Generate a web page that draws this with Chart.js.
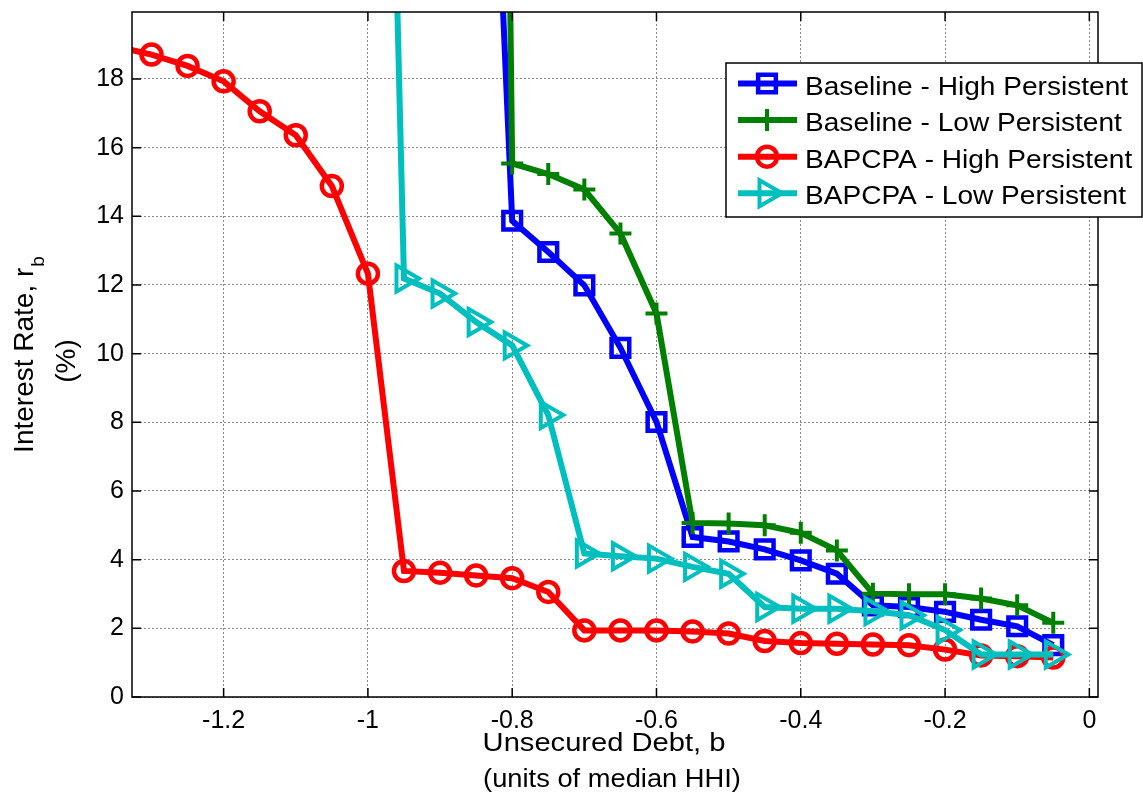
<!DOCTYPE html>
<html>
<head>
<meta charset="utf-8">
<script src="https://cdn.jsdelivr.net/npm/chart.js@4.4.1/dist/chart.umd.min.js"></script>
<style>
  html, body { margin: 0; padding: 0; background: #fff; }
  #wrap { width: 1143px; height: 806px; }
</style>
</head>
<body>
<div id="wrap"><canvas id="rateChart" width="1143" height="806"></canvas></div>
<script>
// debt grid (units of median HHI)
const debtGrid = [-1.35, -1.3, -1.25, -1.2, -1.15, -1.1, -1.05, -1.0, -0.95, -0.9,
  -0.85, -0.8, -0.75, -0.7, -0.65, -0.6, -0.55, -0.5, -0.45, -0.4,
  -0.35, -0.3, -0.25, -0.2, -0.15, -0.1, -0.05];

// interest rates (%)
const baselineHigh = [38, 13.87, 12.96, 11.99, 10.17, 8.01, 4.66, 4.53, 4.30, 3.98,
  3.59, 2.67, 2.62, 2.48, 2.25, 2.06, 1.51];
const baselineLow = [100, 15.54, 15.23, 14.78, 13.50, 11.17, 5.07, 5.05, 5.00, 4.78,
  4.27, 3.01, 2.99, 2.99, 2.87, 2.67, 2.16];
const bapcpaHigh = [18.95, 18.71, 18.38, 17.93, 17.06, 16.36, 14.88, 12.33, 3.67, 3.62,
  3.54, 3.46, 3.06, 1.94, 1.94, 1.94, 1.91, 1.85, 1.63, 1.57,
  1.55, 1.53, 1.51, 1.38, 1.21, 1.19, 1.15];
const bapcpaLow = [55, 12.19, 11.75, 10.92, 10.24, 8.21, 4.18, 4.10, 4.03, 3.79,
  3.59, 2.62, 2.57, 2.57, 2.50, 2.38, 1.95, 1.24, 1.24, 1.24];

const xTicks = [-1.2, -1, -0.8, -0.6, -0.4, -0.2, 0];
const yTicks = [0, 2, 4, 6, 8, 10, 12, 14, 16, 18];

const legendLabels = [
  "Baseline - High Persistent",
  "Baseline - Low Persistent",
  "BAPCPA - High Persistent",
  "BAPCPA - Low Persistent",
];

const FONT = "'Liberation Sans', Arial, Helvetica, sans-serif";
const BLUE = "#0000ff", GREEN = "#008000", RED = "#ff0000", CYAN = "#00bfbf";

function toPoints(xs, ys) {
  return ys.map((y, i) => ({ x: xs[i], y: y }));
}

const series = [
  { label: legendLabels[0], data: toPoints(debtGrid.slice(10), baselineHigh), color: BLUE,
    style: "rect", radius: 12.5, bw: 4.5, rot: 0, order: 3 },
  { label: legendLabels[1], data: toPoints(debtGrid.slice(10), baselineLow), color: GREEN,
    style: "cross", radius: 11, bw: 4, rot: 0, order: 2 },
  { label: legendLabels[2], data: toPoints(debtGrid, bapcpaHigh), color: RED,
    style: "circle", radius: 10, bw: 4.5, rot: 0, order: 1 },
  { label: legendLabels[3], data: toPoints(debtGrid.slice(7), bapcpaLow), color: CYAN,
    style: "triangle", radius: 15, bw: 4, rot: 90, order: 0 },
];

function drawText(ctx, txt, x, y, size, align, sx) {
  ctx.save();
  ctx.font = size + "px " + FONT;
  ctx.textAlign = "left";
  ctx.textBaseline = "alphabetic";
  const w = ctx.measureText(txt).width * sx;
  const left = align === "center" ? x - w / 2 : align === "right" ? x - w : x;
  ctx.translate(left, y);
  ctx.scale(sx, 1);
  ctx.fillStyle = "#000";
  ctx.fillText(txt, 0, 0);
  ctx.restore();
}

// marker for the legend box
function drawMarker(ctx, s, x, y) {
  ctx.save();
  ctx.strokeStyle = s.color;
  ctx.lineWidth = s.bw;
  ctx.beginPath();
  if (s.style === "rect") {
    const h = s.radius * Math.SQRT1_2;
    ctx.rect(x - h, y - h, 2 * h, 2 * h);
  } else if (s.style === "cross") {
    ctx.moveTo(x - s.radius, y); ctx.lineTo(x + s.radius, y);
    ctx.moveTo(x, y - s.radius); ctx.lineTo(x, y + s.radius);
  } else if (s.style === "circle") {
    ctx.arc(x, y, s.radius, 0, Math.PI * 2);
  } else {
    let a = s.rot * Math.PI / 180;
    ctx.moveTo(x + Math.sin(a) * s.radius, y - Math.cos(a) * s.radius);
    a += 2 * Math.PI / 3;
    ctx.lineTo(x + Math.sin(a) * s.radius, y - Math.cos(a) * s.radius);
    a += 2 * Math.PI / 3;
    ctx.lineTo(x + Math.sin(a) * s.radius, y - Math.cos(a) * s.radius);
    ctx.closePath();
  }
  ctx.stroke();
  ctx.restore();
}

const matlabFrame = {
  id: "matlabFrame",
  afterDatasetsDraw(chart) {
    const ctx = chart.ctx;
    const a = chart.chartArea;
    const xs = chart.scales.x, ys = chart.scales.y;
    ctx.save();
    ctx.strokeStyle = "#000";
    ctx.lineWidth = 1.5;
    ctx.strokeRect(a.left, a.top, a.right - a.left, a.bottom - a.top);
    // inward tick marks on all four sides
    const tl = 9;
    ctx.beginPath();
    xTicks.forEach((v) => {
      const px = xs.getPixelForValue(v);
      ctx.moveTo(px, a.bottom); ctx.lineTo(px, a.bottom - tl);
      ctx.moveTo(px, a.top); ctx.lineTo(px, a.top + tl);
    });
    yTicks.forEach((v) => {
      const py = ys.getPixelForValue(v);
      ctx.moveTo(a.left, py); ctx.lineTo(a.left + tl, py);
      ctx.moveTo(a.right, py); ctx.lineTo(a.right - tl, py);
    });
    ctx.stroke();
    ctx.restore();
  },
  afterDraw(chart) {
    const ctx = chart.ctx;

    // x axis title (two lines)
    drawText(ctx, "Unsecured Debt, b", 604, 751, 26, "center", 1.12);
    drawText(ctx, "(units of median HHI)", 612, 787, 26, "center", 1.05);

    // y axis title with subscript
    ctx.save();
    ctx.translate(33, 355);
    ctx.rotate(-Math.PI / 2);
    ctx.fillStyle = "#000";
    ctx.textBaseline = "alphabetic";
    ctx.textAlign = "left";
    ctx.font = "28px " + FONT;
    const main = "Interest Rate, r";
    const wMain = ctx.measureText(main).width;
    ctx.font = "19px " + FONT;
    const wSub = ctx.measureText("b").width;
    const start = -(wMain + wSub) / 2;
    ctx.font = "28px " + FONT;
    ctx.fillText(main, start, 0);
    ctx.font = "19px " + FONT;
    ctx.fillText("b", start + wMain + 1, 11);
    ctx.restore();
    ctx.save();
    ctx.translate(75, 361);
    ctx.rotate(-Math.PI / 2);
    ctx.fillStyle = "#000";
    ctx.font = "28px " + FONT;
    ctx.textAlign = "center";
    ctx.fillText("(%)", 0, 0);
    ctx.restore();

    // legend box
    const bx = 726, by = 63, bw = 416, bh = 154;
    ctx.save();
    ctx.fillStyle = "#fff";
    ctx.fillRect(bx, by, bw, bh);
    ctx.strokeStyle = "#000";
    ctx.lineWidth = 1.5;
    ctx.strokeRect(bx, by, bw, bh);
    series.forEach((s, i) => {
      const y = 83.5 + i * 36.6;
      ctx.strokeStyle = s.color;
      ctx.lineWidth = 6;
      ctx.beginPath();
      ctx.moveTo(738, y);
      ctx.lineTo(797, y);
      ctx.stroke();
      drawMarker(ctx, s, 767, y);
      drawText(ctx, s.label, 805, y + 11, 26, "left", 1.08);
    });
    ctx.restore();
  },
};

// keep the axes box fixed: no extra room reserved for edge tick labels or big markers
function fixPadding(scale) {
  scale.paddingTop = 0;
  scale.paddingBottom = 0;
  scale.paddingLeft = 0;
  scale.paddingRight = 0;
}
Chart.LineController.prototype.getMaxOverflow = function () {
  return 0;
};

const ctxRate = document.getElementById("rateChart").getContext("2d");
const rateChart = new Chart(ctxRate, {
  type: "line",
  data: {
    datasets: series.map((s) => ({
      label: s.label,
      data: s.data,
      borderColor: s.color,
      backgroundColor: "rgba(0,0,0,0)",
      borderWidth: 6,
      tension: 0,
      fill: false,
      pointStyle: s.style,
      pointRadius: s.radius,
      pointRotation: s.rot,
      pointBorderWidth: s.bw,
      pointBorderColor: s.color,
      pointBackgroundColor: "rgba(0,0,0,0)",
      order: s.order,
      clip: 0,
    })),
  },
  options: {
    responsive: false,
    devicePixelRatio: 1,
    animation: false,
    events: [],
    layout: { padding: { top: 12, right: 45, left: 0, bottom: 0 } },
    plugins: {
      legend: { display: false },
      tooltip: { enabled: false },
    },
    scales: {
      x: {
        type: "linear",
        min: -1.327,
        max: 0.012,
        afterBuildTicks: (scale) => {
          scale.ticks = xTicks.map((v) => ({ value: v }));
        },
        afterFit: (scale) => {
          scale.height = 109;
          fixPadding(scale);
        },
        ticks: {
          color: "#000",
          font: { family: FONT, size: 25 },
          padding: 9,
          maxRotation: 0,
          autoSkip: false,
          callback: (v) => String(Number(v.toFixed(1))),
        },
        grid: { color: "#8a8a8a", lineWidth: 1, drawTicks: false },
        border: { display: false, dash: [2, 2] },
      },
      y: {
        type: "linear",
        min: 0,
        max: 19.95,
        afterBuildTicks: (scale) => {
          scale.ticks = yTicks.map((v) => ({ value: v }));
        },
        afterFit: (scale) => {
          scale.width = 132;
          fixPadding(scale);
        },
        ticks: {
          color: "#000",
          font: { family: FONT, size: 25 },
          padding: 8,
          autoSkip: false,
        },
        grid: { color: "#8a8a8a", lineWidth: 1, drawTicks: false },
        border: { display: false, dash: [2, 2] },
      },
    },
  },
  plugins: [matlabFrame],
});
</script>
</body>
</html>
